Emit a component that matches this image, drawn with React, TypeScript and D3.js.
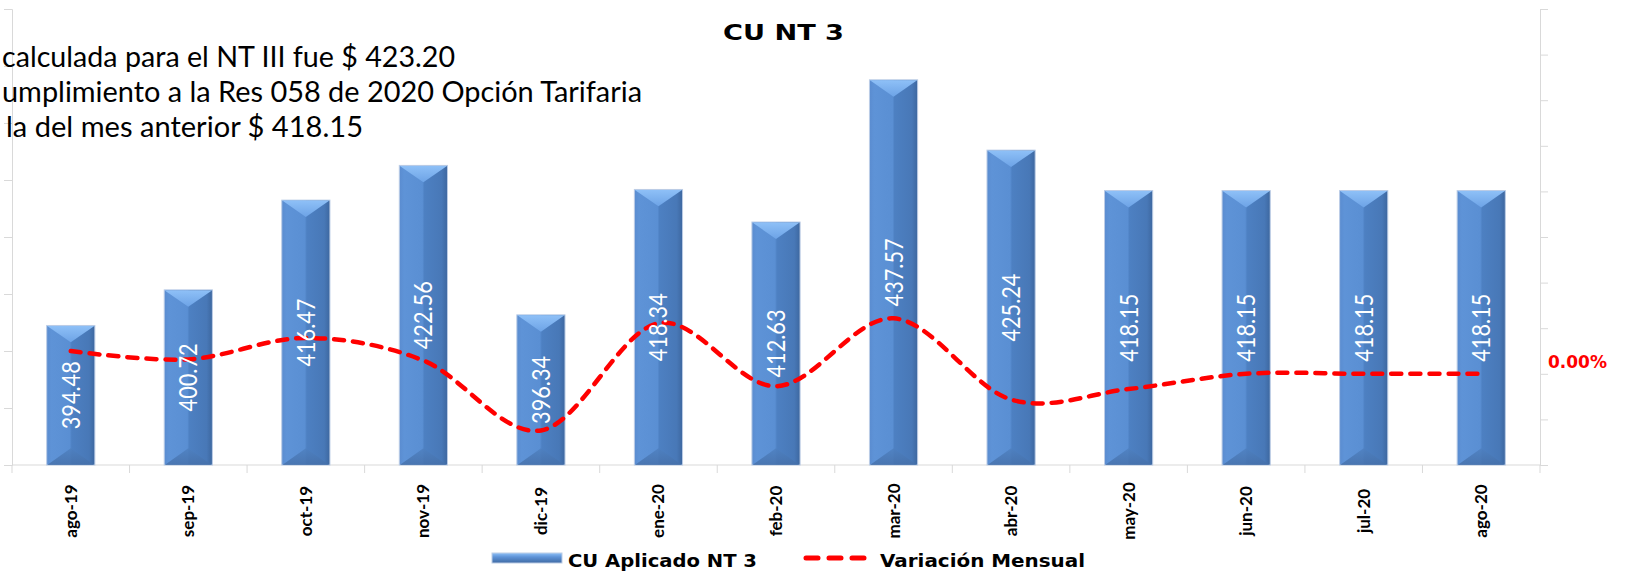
import * as d3 from "d3";
import { useRef, useEffect } from "react";

const months = ["ago-19", "sep-19", "oct-19", "nov-19", "dic-19", "ene-20", "feb-20", "mar-20", "abr-20", "may-20", "jun-20", "jul-20", "ago-20"];
const cuValues = [394.48, 400.72, 416.47, 422.56, 396.34, 418.34, 412.63, 437.57, 425.24, 418.15, 418.15, 418.15, 418.15];
const variation = [0.025, 0.0158, 0.0393, 0.0146, -0.0621, 0.0555, -0.0136, 0.0608, -0.0282, -0.0167, 0, 0, 0];
const noteLines = [
  "calculada para el NT III fue $ 423.20",
  "umplimiento a la Res 058 de 2020 Opción Tarifaria",
  "la del mes anterior $ 418.15",
];
const noteX = [2, 2, 6];
const noteWidths = [453, 640, 357];

export default function App({
  width = 1629,
  height = 571,
  plotLeft = 12,
  plotRight = 1540,
  plotTop = 9,
  plotBottom = 465,
}) {
  const gLeft = useRef(null);
  const gRight = useRef(null);

  const x = d3.scaleBand(months, [plotLeft, plotRight]).paddingInner(0.59).paddingOuter(0.295);
  const yL = d3.scaleLinear([370, 450], [plotBottom, plotTop]);
  const yR = d3.scaleLinear([-0.1, 0.4], [plotBottom, plotTop]);
  const bw = x.bandwidth();
  const cx = (m) => x(m) + bw / 2;

  const line = d3
    .line()
    .x((d, i) => cx(months[i]))
    .y((d) => yR(d))
    .curve(d3.curveCardinal);

  useEffect(() => {
    const left = d3.axisLeft(yL).tickValues(d3.range(370, 451, 10)).tickSize(8).tickFormat(() => "");
    d3.select(gLeft.current).call(left);
    const right = d3.axisRight(yR).tickValues(d3.range(0, 11).map((i) => -0.1 + i * 0.05)).tickSize(8).tickFormat(() => "");
    d3.select(gRight.current).call(right);
    [gLeft, gRight].forEach((g) => {
      d3.select(g.current).selectAll("path,line").attr("stroke", "#d9d9d9");
    });
  }, [yL, yR]);

  // tick marks sit on the category boundaries
  const boundaries = months.map((m) => cx(m) - x.step() / 2).concat([cx(months[months.length - 1]) + x.step() / 2]);
  const depth = bw * 0.35;

  return (
    <div>
      <svg width={width} height={height} style={{ position: "absolute", left: 0, top: 0, background: "#fff" }}>
        <defs>
          <linearGradient id="barBody" x1="0" x2="1" y1="0" y2="0">
            <stop offset="0%" stopColor="#5a8cd0" />
            <stop offset="10%" stopColor="#5e93d7" />
            <stop offset="48%" stopColor="#5a8fd3" />
            <stop offset="52%" stopColor="#4d80c2" />
            <stop offset="88%" stopColor="#4878b7" />
            <stop offset="100%" stopColor="#3d679f" />
          </linearGradient>
          <linearGradient id="barTop" x1="0" x2="0" y1="0" y2="1">
            <stop offset="0%" stopColor="#8ec0f7" />
            <stop offset="100%" stopColor="#6da3e6" />
          </linearGradient>
          <linearGradient id="barBottom" x1="0" x2="0" y1="0" y2="1">
            <stop offset="0%" stopColor="#4e80c0" />
            <stop offset="100%" stopColor="#456fa8" />
          </linearGradient>
          <linearGradient id="legendSwatch" x1="0" x2="0" y1="0" y2="1">
            <stop offset="0%" stopColor="#8ec0f7" />
            <stop offset="40%" stopColor="#5e93d7" />
            <stop offset="100%" stopColor="#3f6aa3" />
          </linearGradient>
        </defs>

        {/* axes */}
        <g ref={gLeft} transform={`translate(${plotLeft},0)`} />
        <g ref={gRight} transform={`translate(${plotRight},0)`} />
        <line x1={plotLeft} x2={plotRight} y1={plotBottom} y2={plotBottom} stroke="#d9d9d9" />
        {boundaries.map((b, i) => (
          <line key={i} x1={b} x2={b} y1={plotBottom} y2={plotBottom + 8} stroke="#d9d9d9" />
        ))}

        {/* bars */}
        {months.map((m, i) => {
          const x0 = x(m);
          const x1 = x0 + bw;
          const top = yL(cuValues[i]);
          const bottom = yL(370);
          return (
            <g key={m}>
              <rect x={x0} y={top} width={bw} height={bottom - top} fill="url(#barBody)" stroke="#bccde6" strokeWidth={1} />
              <polygon points={`${x0 + 0.5},${top + 0.5} ${x1 - 0.5},${top + 0.5} ${x0 + bw / 2},${top + depth}`} fill="url(#barTop)" />
              <polygon points={`${x0 + 0.5},${bottom} ${x1 - 0.5},${bottom} ${x0 + bw / 2},${bottom - depth}`} fill="url(#barBottom)" opacity={0.8} />
            </g>
          );
        })}

        {/* variation line */}
        <path d={line(variation)} fill="none" stroke="#ff0000" strokeWidth={4.5} strokeDasharray="10 9" strokeLinecap="round" />

        {/* data labels */}
        {months.map((m, i) => {
          const top = yL(cuValues[i]);
          const mid = (top + plotBottom) / 2;
          return (
            <text
              key={m}
              transform={`translate(${cx(m) + 9},${mid}) rotate(-90)`}
              textAnchor="middle"
              fill="#fff"
              fontFamily="Lato, 'Open Sans', sans-serif"
              fontSize={25}
              textLength={68}
              lengthAdjust="spacingAndGlyphs"
            >
              {cuValues[i].toFixed(2)}
            </text>
          );
        })}

        <text x={plotRight + 8} y={yR(0) - 6} fill="#ff0000" fontFamily="'DejaVu Sans', sans-serif" fontWeight="bold" fontSize={17}>
          {d3.format(".2%")(variation[variation.length - 1])}
        </text>

        {/* category labels */}
        {months.map((m) => (
          <text
            key={m}
            transform={`translate(${cx(m) + 6},${plotBottom + 46}) rotate(-90)`}
            textAnchor="middle"
            fontFamily="Lato, sans-serif"
            fontWeight="bold"
            fontSize={17}
            fill="#000"
          >
            {m}
          </text>
        ))}

        {/* title */}
        <text x={783.5} y={40} textAnchor="middle" fontFamily="'DejaVu Sans', sans-serif" fontWeight="bold" fontSize={22} textLength={121} lengthAdjust="spacingAndGlyphs">
          CU NT 3
        </text>

        {/* note text */}
        {noteLines.map((t, i) => (
          <text
            key={i}
            x={noteX[i]}
            y={67 + i * 35}
            fontFamily="Lato, sans-serif"
            fontSize={28}
            fill="#000"
            textLength={noteWidths[i]}
            lengthAdjust="spacingAndGlyphs"
          >
            {t}
          </text>
        ))}

        {/* legend */}
        <rect x={492} y={553} width={70} height={10} fill="url(#legendSwatch)" stroke="#bccde6" />
        <text x={568} y={567} fontFamily="'DejaVu Sans', sans-serif" fontWeight="bold" fontSize={18} textLength={189} lengthAdjust="spacingAndGlyphs">
          CU Aplicado NT 3
        </text>
        <line x1={806} x2={864} y1={558} y2={558} stroke="#ff0000" strokeWidth={5} strokeDasharray="12 11" strokeLinecap="round" />
        <text x={880} y={567} fontFamily="'DejaVu Sans', sans-serif" fontWeight="bold" fontSize={18} textLength={205} lengthAdjust="spacingAndGlyphs">
          Variación Mensual
        </text>
      </svg>
    </div>
  );
}
